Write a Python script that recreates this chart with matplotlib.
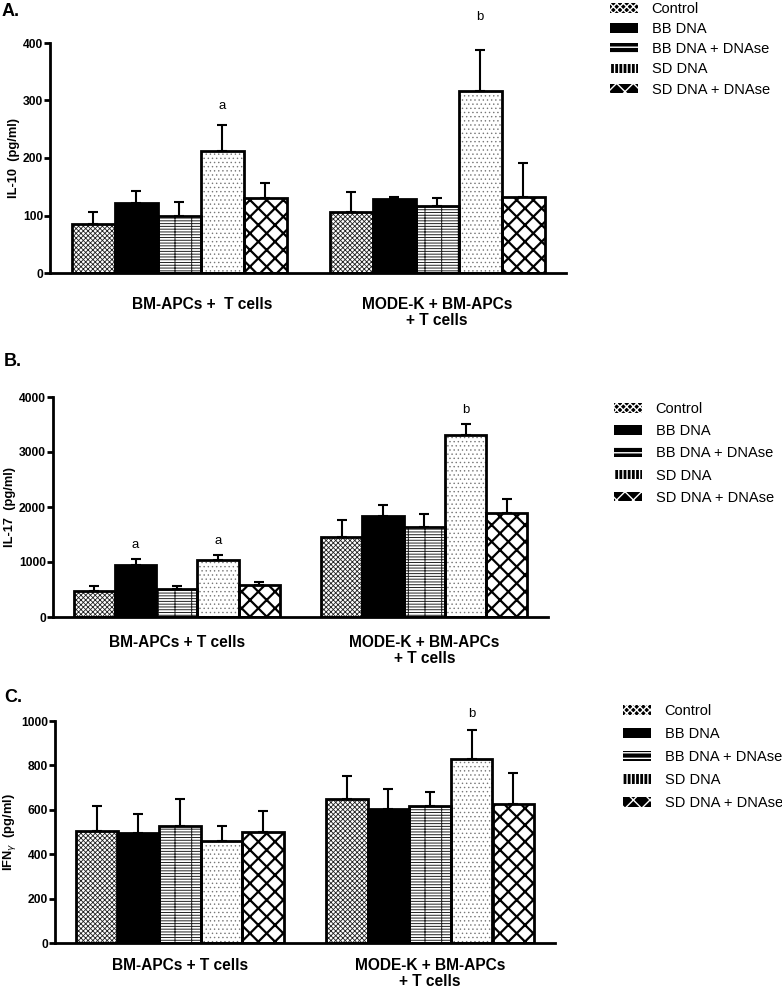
import matplotlib
matplotlib.use("Agg")
import matplotlib.pyplot as plt
from matplotlib.patches import Patch
import numpy as np

plt.rcParams['font.family'] = ['Liberation Sans', 'DejaVu Sans']

# data
treatments = ['Control', 'BB DNA', 'BB DNA + DNAse', 'SD DNA', 'SD DNA + DNAse']
groups_a = ['BM-APCs +  T cells', 'MODE-K + BM-APCs\n+ T cells']
groups_bc = ['BM-APCs + T cells', 'MODE-K + BM-APCs\n+ T cells']

il10_mean = [[85, 122, 99, 213, 130], [106, 128, 116, 317, 132]]
il10_sem = [[21, 20, 24, 44, 26], [35, 4, 14, 70, 59]]
il17_mean = [[470, 945, 515, 1035, 590], [1455, 1830, 1636, 3315, 1898]]
il17_sem = [[90, 110, 40, 100, 50], [315, 200, 230, 195, 255]]
ifng_mean = [[504, 494, 527, 460, 499], [647, 602, 617, 827, 627]]
ifng_sem = [[111, 85, 121, 68, 95], [104, 92, 64, 131, 141]]

il10_marks = [(0, 3, 'a'), (1, 3, 'b')]
il17_marks = [(0, 1, 'a'), (0, 3, 'a'), (1, 3, 'b')]
ifng_marks = [(1, 3, 'b')]

# hatch style per treatment: (facecolor, hatch, hatch colour, hatch lw)
styles = [
    ('white', 'xxxxxxx', '#222222', 0.6),
    ('black', None, 'black', 1.0),
    ('white', '------|', '#222222', 0.7),
    ('white', '....', '#777777', 0.5),
    ('white', 'xx', 'black', 1.6),
]
# legend handles: black box with white pattern
leg_hatch = ['xxxxx', None, '---', '||||', 'xx']

W, H = 782, 990
fig = plt.figure(figsize=(W / 100, H / 100), dpi=100)


def px_axes(l, r, t, b):
    return fig.add_axes([l / W, 1 - b / H, (r - l) / W, (b - t) / H])


def panel(ax, means, sems, ymax, ystep, ylabel, labels, lab_x, lab_off, marks, mark_off):
    for g in range(2):
        for i in range(5):
            x = g * 6 + i
            fc, hatch, hc, hlw = styles[i]
            with plt.rc_context({'hatch.linewidth': hlw}):
                b = ax.bar(x, means[g][i], width=1, color=fc, edgecolor=hc,
                           hatch=hatch, linewidth=0, zorder=2)
            for p in b:
                if hasattr(p, 'set_hatch_linewidth'):
                    p.set_hatch_linewidth(hlw)
            ax.bar(x, means[g][i], width=1, fill=False, edgecolor='black',
                   linewidth=2, zorder=3)
            ax.errorbar(x, means[g][i], yerr=[[0], [sems[g][i]]], fmt='none',
                        ecolor='black', elinewidth=1.5, capsize=3.6, capthick=1.5,
                        zorder=1)
    for (g, i, t), off in zip(marks, mark_off):
        x = g * 6 + i
        ax.annotate(t, (x, means[g][i] + sems[g][i]), xytext=(0, off),
                    textcoords='offset points', ha='center', va='center', fontsize=9.5)
    ax.set_xlim(-1, 11)
    ax.set_ylim(0, ymax)
    ax.set_yticks(np.arange(0, ymax + 1, ystep))
    ax.set_xticks([])
    for s in ['top', 'right']:
        ax.spines[s].set_visible(False)
    for s in ['left', 'bottom']:
        ax.spines[s].set_linewidth(2)
    ax.tick_params(axis='y', width=2, length=4, labelsize=8.7, pad=1)
    for lab in ax.get_yticklabels():
        lab.set_fontweight('bold')
    ax.set_ylabel(ylabel, fontsize=9.3, fontweight='bold', labelpad=2)
    for lx, txt in zip(lab_x, labels):
        ax.annotate(txt, (lx, 0), xycoords=('data', 'axes fraction'),
                    xytext=(0, -lab_off), textcoords='offset points',
                    ha='center', va='top', fontsize=11.2, fontweight='bold',
                    linespacing=1.1)


def legend(x_px, y_px, spacing):
    handles = [Patch(facecolor='black', edgecolor='white', hatch=h, linewidth=0)
               for h in leg_hatch]
    fig.legend(handles, treatments, loc='upper left',
               bbox_to_anchor=(x_px / W, 1 - y_px / H), frameon=False,
               fontsize=10.5, handlelength=1.9, handleheight=0.62,
               handletextpad=0.95, labelspacing=spacing, borderpad=0,
               borderaxespad=0)


axA = px_axes(50, 566, 43, 273)
panel(axA, il10_mean, il10_sem, 400, 100, 'IL-10  (pg/ml)',
      groups_a, [2.55, 8], 17, il10_marks, [14, 24])
axB = px_axes(53, 548, 397, 617)
panel(axB, il17_mean, il17_sem, 4000, 1000, 'IL-17  (pg/ml)',
      groups_bc, [2, 8], 13, il17_marks, [10, 10, 10])
axC = px_axes(55, 555, 721, 943)
panel(axC, ifng_mean, ifng_sem, 1000, 200, r'IFN$_{\gamma}$  (pg/ml)',
      groups_bc, [2, 8], 11, ifng_marks, [12])

legend(610, 2, 0.42)
legend(614, 402, 0.56)
legend(623, 704, 0.62)

fig.text(2 / W, 1 - 12 / H, 'A.', fontsize=13, fontweight='bold', va='center')
fig.text(4 / W, 1 - 362 / H, 'B.', fontsize=13, fontweight='bold', va='center')
fig.text(4 / W, 1 - 697 / H, 'C.', fontsize=13, fontweight='bold', va='center')

fig.savefig('out.png', dpi=100)
